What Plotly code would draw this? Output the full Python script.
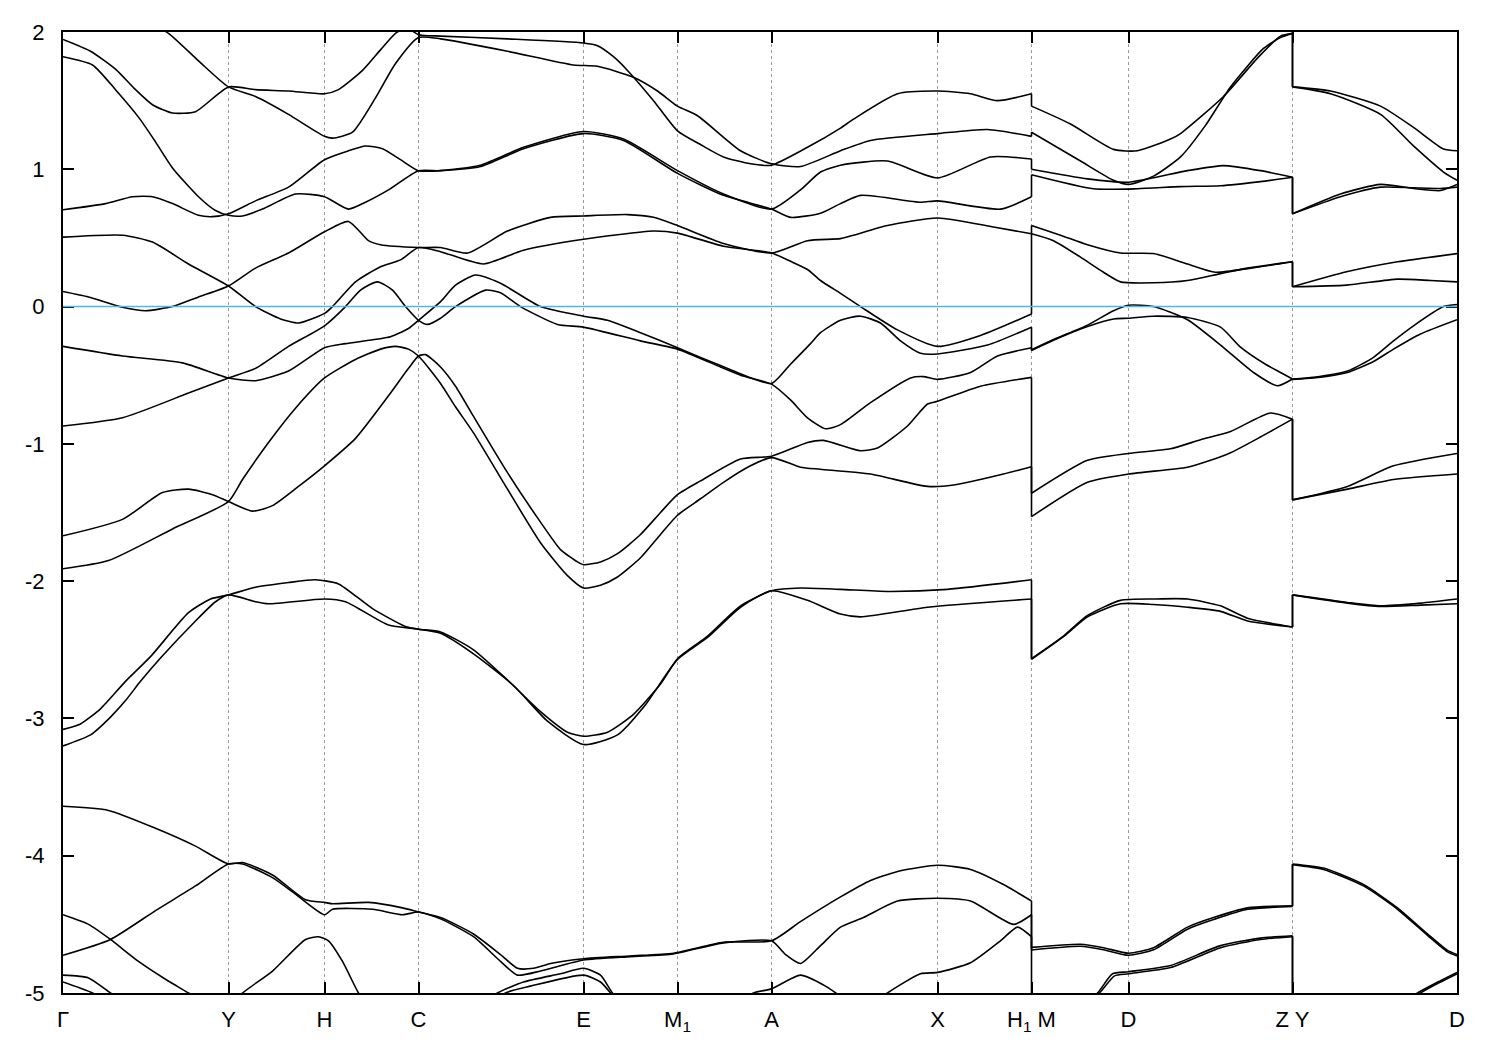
import plotly.graph_objects as go

# ---------------- axis data ----------------
k_ticks = [62.5, 228, 324, 418, 583, 677, 771, 937, 1031, 1128, 1292, 1456.5]
k_labels = ["Γ", "Y", "H", "C", "E", "M<sub>1</sub>", "A", "X",
            "H<sub>1</sub> M", "D", "Z Y", "D"]
e_ticks = [-5, -4, -3, -2, -1, 0, 1, 2]
fermi_level = 0.0
junctions = [1031, 1292]   # H1|M and Z|Y path breaks

# ---------------- bands: segment 1 (Γ ... H1) ----------------
s1_01 = [(140,2.11),(168,1.99),(198,1.79),(228,1.60),(255,1.53),(288,1.40),(324,1.24),(332,1.227),(352,1.27),(375,1.52),(395,1.77),(418,1.96),(440,1.95),(507,1.86),(573,1.76),(597,1.75),(633,1.67),(657,1.57),(677,1.46),(697,1.39),(740,1.135),(771,1.04),(800,1.02),(840,1.135),(870,1.21),(937,1.26),(987,1.29),(1031,1.24)]
s1_02 = [(62.5,1.946),(90,1.86),(115,1.73),(135,1.58),(152,1.47),(172,1.41),(195,1.42),(228,1.60),(255,1.58),(288,1.57),(324,1.55),(338,1.58),(362,1.72),(380,1.87),(395,1.99),(406,2.03),(418,1.98),(440,1.97),(507,1.95),(583,1.92),(597,1.90),(613,1.82),(627,1.72),(653,1.50),(677,1.28),(700,1.18),(723,1.09),(750,1.04),(771,1.03),(807,1.16),(840,1.30),(853,1.365),(897,1.55),(937,1.57),(970,1.55),(997,1.50),(1031,1.55)]
s1_03 = [(62.5,1.82),(92,1.76),(115,1.58),(138,1.38),(155,1.20),(172,1.01),(198,0.80),(215,0.70),(228,0.665),(242,0.66),(262,0.71),(295,0.82),(324,0.80),(348,0.71),(365,0.76),(388,0.85),(418,0.99),(440,0.99),(480,1.02),(523,1.15),(583,1.26),(623,1.21),(677,0.97),(723,0.81),(771,0.71),(790,0.65),(820,0.68),(840,0.75),(860,0.81),(920,0.76),(937,0.77),(1000,0.71),(1031,0.80)]
s1_04 = [(62.5,0.705),(105,0.75),(132,0.80),(152,0.80),(172,0.75),(198,0.665),(212,0.655),(228,0.676),(255,0.77),(288,0.87),(324,1.07),(348,1.135),(365,1.17),(382,1.15),(400,1.07),(418,0.99),(440,0.99),(480,1.03),(523,1.16),(583,1.275),(623,1.22),(677,0.99),(723,0.82),(771,0.71),(800,0.85),(820,0.98),(840,1.03),(887,1.06),(937,0.937),(990,1.09),(1031,1.075)]
s1_05 = [(62.5,0.506),(122,0.52),(152,0.47),(188,0.31),(228,0.15),(255,0.0),(280,-0.09),(298,-0.12),(315,-0.08),(324,-0.05),(332,0.0),(355,0.18),(380,0.29),(400,0.34),(418,0.43),(440,0.40),(483,0.31),(523,0.41),(583,0.49),(653,0.55),(677,0.535),(723,0.44),(771,0.39),(790,0.33),(807,0.27),(820,0.19),(840,0.096),(860,0.0),(897,-0.17),(937,-0.29),(980,-0.21),(1031,-0.054)]
s1_06 = [(62.5,0.11),(88,0.07),(122,-0.005),(145,-0.03),(172,0.0),(198,0.07),(228,0.15),(255,0.28),(288,0.39),(324,0.545),(348,0.62),(368,0.48),(380,0.45),(418,0.43),(440,0.43),(467,0.39),(507,0.55),(550,0.65),(583,0.66),(627,0.67),(653,0.65),(677,0.59),(723,0.46),(771,0.39),(807,0.48),(840,0.495),(853,0.52),(887,0.59),(937,0.645),(993,0.58),(1031,0.53)]
s1_07 = [(62.5,-0.29),(122,-0.36),(182,-0.41),(228,-0.52),(255,-0.54),(288,-0.47),(324,-0.30),(345,-0.27),(390,-0.22),(408,-0.16),(418,-0.10),(440,0.036),(455,0.156),(475,0.23),(500,0.17),(540,0.0),(583,-0.07),(607,-0.10),(640,-0.19),(677,-0.30),(700,-0.37),(720,-0.43),(740,-0.49),(771,-0.56),(790,-0.42),(810,-0.27),(820,-0.19),(840,-0.10),(860,-0.07),(880,-0.12),(900,-0.25),(920,-0.34),(937,-0.345),(987,-0.28),(1031,-0.15)]
s1_08 = [(62.5,-0.87),(122,-0.81),(188,-0.63),(228,-0.52),(255,-0.45),(288,-0.29),(324,-0.14),(345,0.0),(360,0.12),(377,0.18),(392,0.12),(405,0.0),(418,-0.10),(427,-0.13),(440,-0.085),(455,0.0),(485,0.12),(500,0.10),(520,0.0),(557,-0.13),(583,-0.15),(640,-0.25),(677,-0.31),(720,-0.44),(740,-0.50),(771,-0.565),(790,-0.68),(807,-0.81),(825,-0.89),(840,-0.86),(870,-0.70),(910,-0.52),(923,-0.51),(937,-0.53),(970,-0.48),(997,-0.36),(1031,-0.30)]
s1_09 = [(62.5,-1.67),(122,-1.55),(162,-1.355),(188,-1.33),(212,-1.37),(228,-1.42),(252,-1.49),(272,-1.45),(298,-1.31),(324,-1.16),(355,-0.96),(388,-0.65),(408,-0.45),(418,-0.36),(425,-0.35),(440,-0.44),(455,-0.58),(473,-0.80),(507,-1.21),(540,-1.57),(560,-1.77),(577,-1.86),(583,-1.88),(600,-1.86),(617,-1.80),(640,-1.66),(660,-1.50),(677,-1.37),(700,-1.27),(740,-1.11),(771,-1.09),(807,-0.99),(823,-0.975),(860,-1.05),(877,-1.03),(907,-0.87),(927,-0.71),(937,-0.69),(980,-0.58),(1031,-0.516)]
s1_10 = [(62.5,-1.91),(108,-1.85),(172,-1.62),(228,-1.42),(242,-1.26),(268,-0.99),(295,-0.74),(324,-0.52),(355,-0.385),(380,-0.31),(395,-0.29),(408,-0.31),(418,-0.36),(440,-0.56),(455,-0.73),(473,-0.92),(507,-1.33),(540,-1.72),(567,-1.96),(583,-2.05),(600,-2.03),(617,-1.97),(640,-1.83),(660,-1.66),(677,-1.52),(700,-1.40),(723,-1.28),(750,-1.16),(771,-1.10),(800,-1.17),(820,-1.185),(870,-1.22),(927,-1.31),(953,-1.30),(1003,-1.22),(1031,-1.166)]
s1_11 = [(62.5,-3.08),(80,-3.04),(100,-2.93),(125,-2.73),(150,-2.55),(188,-2.23),(210,-2.13),(228,-2.10),(255,-2.045),(288,-2.01),(315,-1.99),(338,-2.02),(372,-2.20),(405,-2.33),(418,-2.35),(440,-2.37),(473,-2.50),(507,-2.72),(540,-2.95),(567,-3.10),(583,-3.13),(607,-3.10),(633,-2.97),(660,-2.75),(677,-2.565),(707,-2.40),(740,-2.18),(771,-2.07),(800,-2.05),(840,-2.06),(887,-2.075),(947,-2.06),(1031,-1.99)]
s1_12 = [(62.5,-3.20),(90,-3.12),(110,-2.99),(125,-2.87),(140,-2.73),(160,-2.56),(195,-2.29),(215,-2.15),(228,-2.10),(255,-2.15),(268,-2.165),(324,-2.13),(345,-2.15),(388,-2.32),(418,-2.35),(440,-2.38),(473,-2.53),(513,-2.76),(547,-3.02),(583,-3.19),(617,-3.12),(645,-2.90),(677,-2.57),(707,-2.41),(740,-2.19),(771,-2.07),(807,-2.14),(840,-2.24),(860,-2.26),(927,-2.19),(1031,-2.13)]
s1_13 = [(62.5,-3.64),(108,-3.67),(155,-3.80),(195,-3.93),(228,-4.06),(242,-4.05),(272,-4.14),(305,-4.32),(324,-4.34),(332,-4.35),(368,-4.34),(402,-4.38),(418,-4.41),(440,-4.45),(473,-4.57),(500,-4.72),(517,-4.82),(533,-4.82),(550,-4.785),(583,-4.75),(630,-4.73),(673,-4.71),(723,-4.63),(771,-4.62),(800,-4.48),(840,-4.30),(870,-4.18),(900,-4.11),(937,-4.07),(970,-4.10),(1003,-4.21),(1031,-4.33)]
s1_14 = [(62.5,-4.725),(110,-4.61),(155,-4.40),(195,-4.22),(228,-4.06),(242,-4.06),(272,-4.16),(295,-4.28),(324,-4.43),(332,-4.39),(372,-4.39),(402,-4.43),(418,-4.41),(440,-4.46),(473,-4.59),(500,-4.77),(517,-4.87),(540,-4.84),(583,-4.76),(630,-4.735),(673,-4.715),(723,-4.635),(771,-4.62),(785,-4.72),(800,-4.785),(820,-4.655),(840,-4.52),(863,-4.45),(897,-4.33),(937,-4.31),(970,-4.33),(1013,-4.50),(1031,-4.43)]
s1_15 = [(62.5,-4.43),(88,-4.50),(110,-4.61),(138,-4.77),(165,-4.90),(188,-5.0),(210,-5.1)]
s1_16 = [(62.5,-4.87),(88,-4.89),(110,-5.0),(130,-5.1)]
s1_17 = [(62.5,-4.92),(92,-5.0),(110,-5.08)]
s1_18 = [(225,-5.12),(242,-5.0),(272,-4.84),(305,-4.61),(318,-4.59),(328,-4.62),(342,-4.77),(358,-5.0),(370,-5.12)]
s1_19 = [(480,-5.1),(497,-5.0),(523,-4.92),(560,-4.86),(583,-4.82),(600,-4.87),(612,-5.0),(625,-5.1)]
s1_20 = [(490,-5.1),(505,-5.0),(530,-4.95),(583,-4.87),(600,-4.92),(610,-5.0),(620,-5.1)]
s1_21 = [(735,-5.1),(753,-5.0),(771,-4.97),(800,-4.87),(825,-4.95),(845,-5.05)]
s1_22 = [(870,-5.1),(887,-5.0),(920,-4.86),(937,-4.85),(970,-4.78),(1000,-4.62),(1017,-4.52),(1031,-4.59)]

# ---------------- bands: segment 2 (M ... Z) ----------------
s2_01 = [(1031,1.46),(1070,1.33),(1113,1.145),(1137,1.135),(1170,1.22),(1180,1.26),(1223,1.53),(1257,1.81),(1280,1.97),(1292,1.99)]
s2_02 = [(1031,1.27),(1080,1.06),(1113,0.92),(1128,0.89),(1153,0.95),(1180,1.09),(1205,1.32),(1230,1.60),(1263,1.88),(1280,1.96),(1292,1.99)]
s2_03 = [(1031,1.00),(1087,0.93),(1128,0.906),(1187,0.99),(1223,1.027),(1260,0.99),(1292,0.942)]
s2_04 = [(1031,0.96),(1093,0.858),(1137,0.858),(1180,0.874),(1220,0.88),(1260,0.91),(1292,0.942)]
s2_05 = [(1031,0.59),(1060,0.52),(1087,0.45),(1120,0.39),(1153,0.386),(1187,0.31),(1215,0.25),(1250,0.28),(1292,0.326)]
s2_06 = [(1031,0.53),(1053,0.48),(1080,0.36),(1103,0.25),(1120,0.18),(1153,0.173),(1187,0.19),(1220,0.24),(1247,0.28),(1292,0.326)]
s2_07 = [(1031,-0.315),(1053,-0.24),(1087,-0.135),(1113,-0.03),(1128,0.01),(1153,0.0),(1187,-0.096),(1220,-0.28),(1253,-0.48),(1277,-0.577),(1292,-0.528)]
s2_08 = [(1031,-0.32),(1053,-0.245),(1087,-0.145),(1113,-0.09),(1128,-0.085),(1153,-0.07),(1187,-0.08),(1220,-0.15),(1240,-0.295),(1265,-0.42),(1280,-0.48),(1292,-0.528)]
s2_09 = [(1031,-1.36),(1087,-1.12),(1128,-1.07),(1170,-1.036),(1200,-0.97),(1230,-0.91),(1270,-0.775),(1292,-0.82)]
s2_10 = [(1031,-1.53),(1087,-1.28),(1128,-1.22),(1187,-1.17),(1210,-1.12),(1230,-1.065),(1260,-0.95),(1292,-0.82)]
s2_11 = [(1031,-2.564),(1063,-2.40),(1087,-2.25),(1120,-2.14),(1153,-2.13),(1187,-2.13),(1220,-2.18),(1247,-2.27),(1292,-2.334)]
s2_12 = [(1031,-2.57),(1063,-2.405),(1087,-2.26),(1120,-2.165),(1153,-2.17),(1187,-2.19),(1220,-2.22),(1247,-2.29),(1292,-2.334)]
s2_13 = [(1031,-4.668),(1080,-4.645),(1103,-4.67),(1128,-4.71),(1153,-4.67),(1187,-4.52),(1213,-4.45),(1247,-4.38),(1292,-4.365)]
s2_14 = [(1031,-4.687),(1080,-4.66),(1103,-4.685),(1128,-4.725),(1153,-4.685),(1187,-4.535),(1213,-4.465),(1247,-4.39),(1292,-4.37)]
s2_15 = [(1031,-5.4),(1070,-5.15),(1097,-5.0),(1112,-4.86),(1128,-4.845),(1170,-4.80),(1220,-4.655),(1260,-4.60),(1292,-4.583)]
s2_16 = [(1031,-5.45),(1070,-5.17),(1099,-5.0),(1114,-4.875),(1128,-4.86),(1170,-4.815),(1220,-4.67),(1260,-4.61),(1292,-4.59)]

# ---------------- bands: segment 3 (Y ... D) ----------------
s3_01 = [(1292,1.60),(1330,1.57),(1380,1.46),(1413,1.305),(1443,1.148),(1456.5,1.135)]
s3_02 = [(1292,1.60),(1330,1.55),(1380,1.40),(1413,1.17),(1443,0.98),(1456.5,0.92)]
s3_03 = [(1292,0.676),(1340,0.82),(1380,0.89),(1413,0.86),(1440,0.845),(1456.5,0.89)]
s3_04 = [(1292,0.676),(1340,0.80),(1380,0.87),(1413,0.865),(1440,0.86),(1456.5,0.87)]
s3_05 = [(1292,0.144),(1346,0.253),(1397,0.326),(1456.5,0.386)]
s3_06 = [(1292,0.144),(1346,0.156),(1397,0.20),(1430,0.19),(1456.5,0.18)]
s3_07 = [(1292,-0.528),(1313,-0.516),(1347,-0.47),(1373,-0.37),(1393,-0.25),(1413,-0.14),(1443,0.0),(1456.5,0.015)]
s3_08 = [(1292,-0.53),(1313,-0.52),(1347,-0.48),(1373,-0.40),(1393,-0.31),(1420,-0.20),(1456.5,-0.096)]
s3_09 = [(1292,-1.408),(1347,-1.31),(1393,-1.16),(1456.5,-1.07)]
s3_10 = [(1292,-1.408),(1347,-1.33),(1393,-1.26),(1456.5,-1.22)]
s3_11 = [(1292,-2.10),(1347,-2.155),(1380,-2.18),(1420,-2.16),(1456.5,-2.13)]
s3_12 = [(1292,-2.10),(1347,-2.16),(1380,-2.185),(1420,-2.175),(1456.5,-2.165)]
s3_13 = [(1292,-4.06),(1323,-4.09),(1363,-4.21),(1397,-4.38),(1427,-4.57),(1447,-4.69),(1456.5,-4.72)]
s3_14 = [(1292,-4.065),(1323,-4.10),(1363,-4.22),(1397,-4.39),(1427,-4.58),(1447,-4.70),(1456.5,-4.73)]
s3_15 = [(1292,-5.6),(1380,-5.2),(1417,-5.0),(1440,-4.91),(1456.5,-4.85)]
s3_16 = [(1292,-5.65),(1380,-5.22),(1420,-5.0),(1440,-4.92),(1456.5,-4.86)]

segment1 = [s1_01, s1_02, s1_03, s1_04, s1_05, s1_06, s1_07, s1_08, s1_09, s1_10, s1_11,
            s1_12, s1_13, s1_14, s1_15, s1_16, s1_17, s1_18, s1_19, s1_20, s1_21, s1_22]
segment2 = [s2_01, s2_02, s2_03, s2_04, s2_05, s2_06, s2_07, s2_08, s2_09, s2_10, s2_11,
            s2_12, s2_13, s2_14, s2_15, s2_16]
segment3 = [s3_01, s3_02, s3_03, s3_04, s3_05, s3_06, s3_07, s3_08, s3_09, s3_10, s3_11,
            s3_12, s3_13, s3_14, s3_15, s3_16]

BAND_LINE = dict(color="black", width=1.6, shape="spline", smoothing=0.6)
JUMP_LINE = dict(color="black", width=1.6)

fig = go.Figure()

for seg in (segment1, segment2, segment3):
    for band in seg:
        fig.add_trace(go.Scatter(x=[p[0] for p in band], y=[p[1] for p in band],
                                 mode="lines", line=BAND_LINE, hoverinfo="skip",
                                 showlegend=False))

# vertical connections at the path breaks (band index order)
for kj, left, right in ((junctions[0], segment1, segment2), (junctions[1], segment2, segment3)):
    ends = sorted([b[-1][1] for b in left if abs(b[-1][0] - kj) < 0.5], reverse=True)
    starts = sorted([b[0][1] for b in right if abs(b[0][0] - kj) < 0.5], reverse=True)
    for e1, e2 in zip(ends, starts):
        fig.add_trace(go.Scatter(x=[kj, kj], y=[e1, e2], mode="lines", line=JUMP_LINE,
                                 hoverinfo="skip", showlegend=False))

fig.add_hline(y=fermi_level, line=dict(color="#56B4E9", width=1.6), layer="above")

fig.update_layout(
    width=1492, height=1042,
    margin=dict(l=55, r=43, t=20, b=57),
    paper_bgcolor="white", plot_bgcolor="white",
    font=dict(family="Liberation Sans, Arial, sans-serif", size=22, color="black"),
    showlegend=False,
)
fig.update_xaxes(
    range=[k_ticks[0], k_ticks[-1]], tickvals=k_ticks, ticktext=k_labels,
    showgrid=True, gridcolor="#9a9a9a", griddash="3px,3px", gridwidth=1,
    zeroline=False, showline=True, linecolor="black", linewidth=2, mirror="ticks",
    ticks="inside", ticklen=11, tickwidth=2, tickcolor="black",
    ticklabelstandoff=6,
)
fig.update_yaxes(
    range=[e_ticks[0], e_ticks[-1]], tickvals=e_ticks, ticktext=[str(v) for v in e_ticks],
    showgrid=False, zeroline=False, showline=True, linecolor="black", linewidth=2,
    mirror="ticks", ticks="inside", ticklen=11, tickwidth=2, tickcolor="black",
    ticklabelstandoff=12,
)

fig.write_html("out.html")
